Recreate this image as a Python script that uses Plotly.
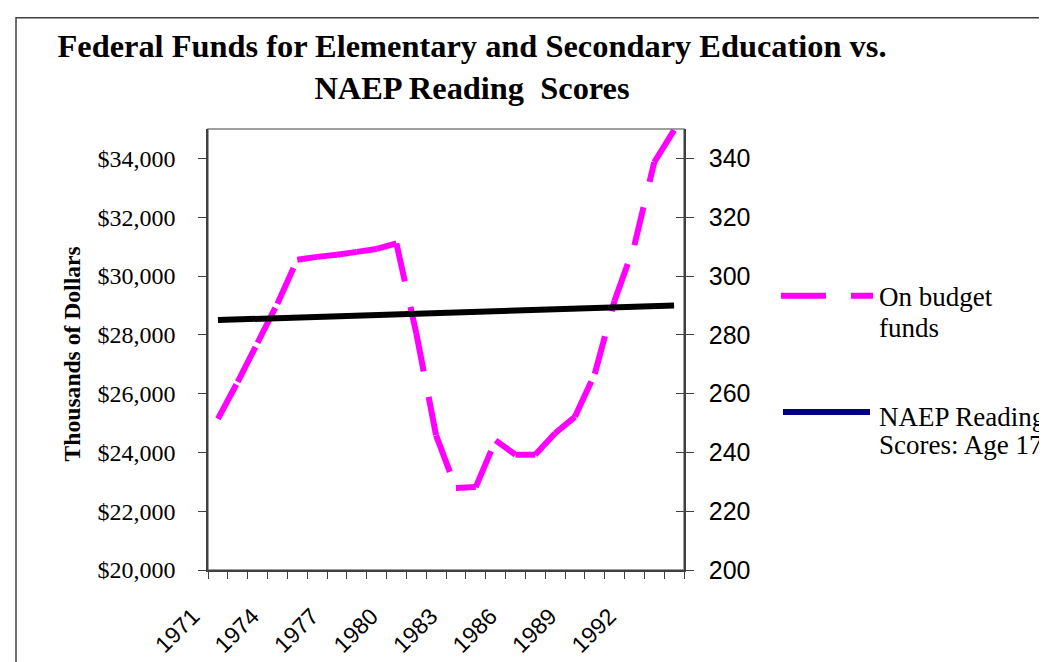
import plotly.graph_objects as go

# ---- data ----
years = list(range(1971, 1995))
funds = [25140, 26400, 27730, 29060, 30550, 30650, 30720, 30820, 30920, 31110,
         28060, 24580, 22790, 22820, 24410, 23920, 23920, 24650, 25210, 26670,
         29160, 31050, 33870, 34960]
naep_years = [1971, 1994]
naep_scores = [285, 290]
label_years = [1971, 1974, 1977, 1980, 1983, 1986, 1989, 1992]
left_ticks = [20000, 22000, 24000, 26000, 28000, 30000, 32000, 34000]
left_ticktext = ["$20,000", "$22,000", "$24,000", "$26,000", "$28,000", "$30,000", "$32,000", "$34,000"]
right_ticks = [200, 220, 240, 260, 280, 300, 320, 340]

W, H = 1047, 662
L, R, T, B = 200, 676, 121, 573


def px(xp):
    return (xp - L) / (R - L)


def py(yp):
    return (B - yp) / (B - T)


MAG = "#FF00FF"
SERIF = "Liberation Serif, Times New Roman, serif"
SANS = "Liberation Sans, Arial, sans-serif"

fig = go.Figure()

# funding line: each segment drawn separately so the dash pattern restarts per segment
for i in range(len(years) - 1):
    fig.add_trace(go.Scatter(
        x=years[i:i + 2], y=funds[i:i + 2], mode="lines",
        line=dict(color=MAG, width=6, dash="39px,26px"),
        showlegend=False, hoverinfo="skip", yaxis="y"))

fig.add_trace(go.Scatter(
    x=naep_years, y=naep_scores, mode="lines",
    line=dict(color="#000000", width=6),
    showlegend=False, yaxis="y2"))

axcol = "#404040"
fig.update_layout(
    width=W, height=H, autosize=False,
    margin=dict(l=L, r=W - R, t=T, b=H - B, pad=0),
    paper_bgcolor="white", plot_bgcolor="white",
    showlegend=False,
    title=dict(
        text="Federal Funds for Elementary and Secondary Education vs.<br>NAEP Reading  Scores",
        font=dict(family=SERIF, size=32.4, color="black", weight="bold"),
        x=px(464), xanchor="center", xref="paper",
        y=1 - 49 / H, yanchor="middle", yref="container"),
    xaxis=dict(
        range=[1970.5, 1994.5], tickmode="array", tickvals=label_years,
        ticktext=[str(y) for y in label_years], ticks="", tickangle=-45,
        tickfont=dict(family=SANS, size=23, color="black"),
        showline=True, linecolor=axcol, linewidth=1.5,
        showgrid=False, zeroline=False,
        minor=dict(tick0=1970.5, dtick=1, ticks="outside", ticklen=7,
                   tickcolor=axcol, tickwidth=1.2, showgrid=False),
        ticklabelstandoff=22, ticklabelshift=-25),
    yaxis=dict(
        range=[20000, 35000], tickmode="array", tickvals=left_ticks,
        ticktext=left_ticktext, ticks="outside", ticklen=8, tickcolor=axcol,
        tickwidth=1.2, mirror="ticks",
        tickfont=dict(family=SERIF, size=24, color="black"),
        showline=True, linecolor=axcol, linewidth=1.5,
        showgrid=False, zeroline=False, ticklabelstandoff=18),
    yaxis2=dict(
        range=[200, 350], tickmode="array", tickvals=right_ticks,
        overlaying="y", side="right", ticks="inside", ticklen=8,
        tickcolor=axcol, tickwidth=1.2,
        tickfont=dict(family=SANS, size=25, color="black"),
        showline=True, linecolor=axcol, linewidth=1.5,
        showgrid=False, zeroline=False, ticklabelstandoff=18),
)

shapes = [
    # plot-area border
    dict(type="rect", xref="paper", yref="paper", x0=0, x1=1, y0=0, y1=1,
         line=dict(color="#808080", width=1.5), layer="below"),
    # outer chart frame
    dict(type="rect", xref="paper", yref="paper", x0=px(8), x1=px(1100),
         y0=py(720), y1=py(7), line=dict(color=axcol, width=1.5), layer="below"),
    # legend samples
    dict(type="line", xref="paper", yref="paper", x0=px(773), x1=px(865),
         y0=py(292), y1=py(292), line=dict(color=MAG, width=6, dash="45px,25px")),
    dict(type="line", xref="paper", yref="paper", x0=px(775), x1=px(862),
         y0=py(411), y1=py(411), line=dict(color="#000080", width=6)),
]
fig.update_layout(shapes=shapes)

annots = [
    dict(text="Thousands of Dollars", x=px(64), y=py(352), textangle=-90,
         font=dict(family=SERIF, size=23.6, color="black", weight="bold")),
    dict(text="On budget", x=px(869), y=py(293), xanchor="left",
         font=dict(family=SERIF, size=27, color="black")),
    dict(text="funds", x=px(869), y=py(325), xanchor="left",
         font=dict(family=SERIF, size=27, color="black")),
    dict(text="NAEP Reading", x=px(869), y=py(416), xanchor="left",
         font=dict(family=SERIF, size=27, color="black")),
    dict(text="Scores: Age 17", x=px(869), y=py(445), xanchor="left",
         font=dict(family=SERIF, size=27, color="black")),
]
for a in annots:
    a.update(xref="paper", yref="paper", showarrow=False, yanchor=a.get("yanchor", "middle"))
    a.setdefault("xanchor", "center")
fig.update_layout(annotations=annots)

fig.write_html("out.html")
